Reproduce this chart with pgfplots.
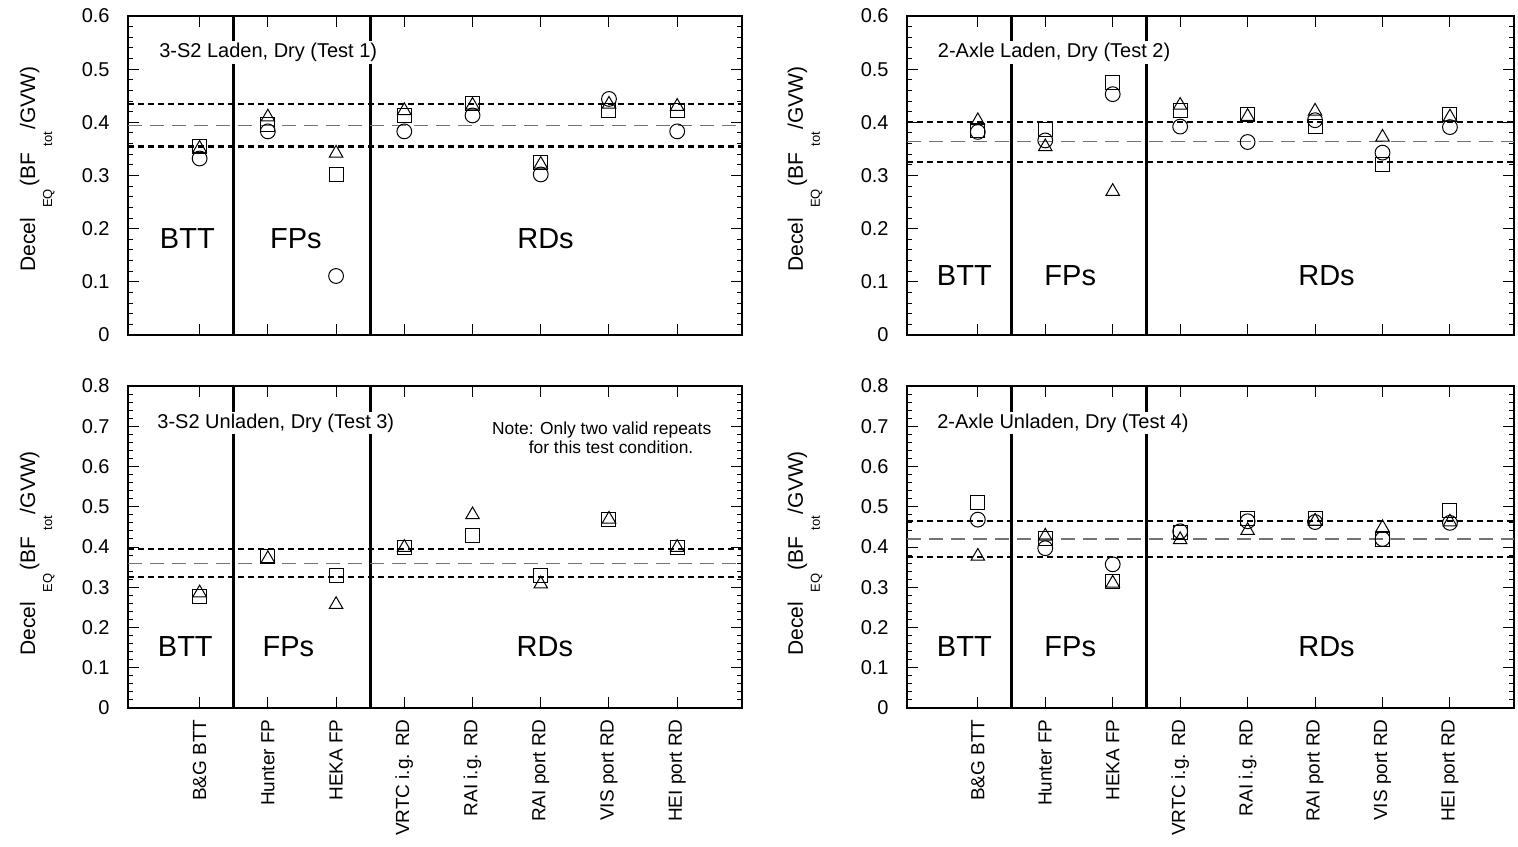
\documentclass[border=0pt]{standalone}
\usepackage{fontspec}
\setmainfont{Liberation Sans}
\usepackage{pgfplots}
\pgfplotsset{compat=1.18}
\newcommand{\sub}[1]{\raisebox{-8.5pt}{\fontsize{6.5}{7}\selectfont #1}}
\tikzset{
  ttl/.style={anchor=west, fill=white, inner sep=1pt, font=\fontsize{10}{12}\selectfont},
  grp/.style={anchor=center, font=\fontsize{14.5}{16}\selectfont},
  nte/.style={anchor=west, inner sep=0pt, font=\fontsize{8.7}{10}\selectfont},
}
\pgfplotsset{
  panel/.style={
    scale only axis, anchor=south west,
    xmin=-0.05, xmax=8.95, ymin=0,
    xtick={1,...,8},
    ytick distance=0.1, minor y tick num=4,
    axis line style={line width=0.6pt},
    every tick/.style={black, line width=0.5pt},
    major tick length=5.5pt, minor tick length=2.5pt,
    /pgf/number format/assume math mode=true,
    /pgf/number format/fixed, /pgf/number format/precision=1,
    tick label style={font=\fontsize{10}{12}\selectfont},
    yticklabel style={inner sep=0pt}, yticklabel shift=9pt,
    xticklabel style={rotate=90, anchor=east, inner sep=0pt, font=\fontsize{9.5}{11}\selectfont},
    xticklabel shift=5.5pt,
    ylabel={Decel\hspace{5pt}\sub{EQ}\hspace{1.5pt}(BF\hspace{3pt}\sub{tot}\hspace{1pt}/GVW)},
    ylabel style={font=\fontsize{10.5}{12}\selectfont, anchor=center, rotate=0},
    clip=false,
  },
  toprow/.style={panel, height=159.5pt, ymax=0.6, xticklabels={}},
  botrow/.style={panel, height=161pt, ymax=0.8,
    xticklabels={B\&G BTT, Hunter FP, HEKA FP, VRTC i.g. RD, RAI i.g. RD, RAI port RD, VIS port RD, HEI port RD}},
  hl/.style={black, line width=1pt, dash pattern=on 3pt off 2pt, forget plot},
  hm/.style={black!55, line width=0.6pt, dash pattern=on 7pt off 4pt, forget plot},
  vl/.style={black, line width=1.6pt, forget plot},
  circ/.style={only marks, mark=o, mark size=3.7pt, mark options={line width=0.5pt}, black},
  sq/.style={only marks, mark=square, mark size=3.5pt, mark options={line width=0.5pt}, black},
  tri/.style={only marks, mark=triangle, mark size=3.9pt, mark options={line width=0.5pt}, black},
}
\begin{document}
\begin{tikzpicture}
\path[use as bounding box] (0pt,0pt) rectangle (759pt,423pt);
% ---------------- Test 1 (top left)
\begin{axis}[toprow, at={(64pt,255.5pt)}, width=307pt,
  ylabel style={at={(axis description cs:-0.148,0.52)}}]
\addplot[vl] coordinates {(1.5,0) (1.5,0.6)};
\addplot[vl] coordinates {(3.5,0) (3.5,0.6)};
\addplot[hl] coordinates {(-0.05,0.434) (8.95,0.434)};
\addplot[hm] coordinates {(-0.05,0.394) (8.95,0.394)};
\addplot[hl, line width=1.5pt] coordinates {(-0.05,0.354) (8.95,0.354)};
\addplot[circ] coordinates {(1,0.332)(2,0.383)(3,0.111)(4,0.383)(5,0.413)(6,0.302)(7,0.444)(8,0.383)};
\addplot[sq] coordinates {(1,0.354)(2,0.395)(3,0.302)(4,0.413)(5,0.435)(6,0.324)(7,0.423)(8,0.423)};
\addplot[tri] coordinates {(1,0.351)(2,0.410)(3,0.342)(4,0.422)(5,0.432)(6,0.321)(7,0.434)(8,0.430)};
\node[ttl] at (rel axis cs:0.047,0.885) {3-S2 Laden, Dry (Test 1)};
\node[grp] at (axis cs:0.82,0.181) {BTT};
\node[grp] at (axis cs:2.41,0.181) {FPs};
\node[grp] at (axis cs:6.07,0.181) {RDs};
\end{axis}
% ---------------- Test 2 (top right)
\begin{axis}[toprow, at={(453.5pt,255.5pt)}, width=303.5pt,
  ylabel style={at={(axis description cs:-0.168,0.52)}}]
\addplot[vl] coordinates {(1.5,0) (1.5,0.6)};
\addplot[vl] coordinates {(3.5,0) (3.5,0.6)};
\addplot[hl] coordinates {(-0.05,0.400) (8.95,0.400)};
\addplot[hm] coordinates {(-0.05,0.364) (8.95,0.364)};
\addplot[hl] coordinates {(-0.05,0.326) (8.95,0.326)};
\addplot[circ] coordinates {(1,0.382)(2,0.366)(3,0.453)(4,0.392)(5,0.363)(6,0.404)(7,0.343)(8,0.391)};
\addplot[sq] coordinates {(1,0.384)(2,0.386)(3,0.475)(4,0.423)(5,0.415)(6,0.392)(7,0.321)(8,0.415)};
\addplot[tri] coordinates {(1,0.403)(2,0.354)(3,0.270)(4,0.432)(5,0.411)(6,0.421)(7,0.372)(8,0.410)};
\node[ttl] at (rel axis cs:0.047,0.885) {2-Axle Laden, Dry (Test 2)};
\node[grp] at (axis cs:0.80,0.112) {BTT};
\node[grp] at (axis cs:2.37,0.112) {FPs};
\node[grp] at (axis cs:6.17,0.112) {RDs};
\end{axis}
% ---------------- Test 3 (bottom left)
\begin{axis}[botrow, at={(64pt,69pt)}, width=307pt,
  ylabel style={at={(axis description cs:-0.148,0.48)}}]
\addplot[vl] coordinates {(1.5,0) (1.5,0.8)};
\addplot[vl] coordinates {(3.5,0) (3.5,0.8)};
\addplot[hl, line width=1.3pt] coordinates {(-0.05,0.395) (8.95,0.395)};
\addplot[hm] coordinates {(-0.05,0.359) (8.95,0.359)};
\addplot[hl] coordinates {(-0.05,0.325) (8.95,0.325)};
\addplot[sq] coordinates {(1,0.278)(2,0.377)(3,0.329)(4,0.399)(5,0.429)(6,0.329)(7,0.469)(8,0.399)};
\addplot[tri] coordinates {(1,0.286)(2,0.371)(3,0.257)(4,0.399)(5,0.480)(6,0.308)(7,0.469)(8,0.399)};
\node[ttl] at (rel axis cs:0.044,0.885) {3-S2 Unladen, Dry (Test 3)};
\node[nte] at (axis cs:5.28,0.690) {Note: Only two valid repeats};
\node[nte] at (axis cs:5.82,0.648) {for this test condition.};
\node[grp] at (axis cs:0.79,0.152) {BTT};
\node[grp] at (axis cs:2.30,0.152) {FPs};
\node[grp] at (axis cs:6.06,0.152) {RDs};
\end{axis}
% ---------------- Test 4 (bottom right)
\begin{axis}[botrow, at={(453.5pt,69pt)}, width=303.5pt,
  ylabel style={at={(axis description cs:-0.168,0.48)}}]
\addplot[vl] coordinates {(1.5,0) (1.5,0.8)};
\addplot[vl] coordinates {(3.5,0) (3.5,0.8)};
\addplot[hl] coordinates {(-0.05,0.464) (8.95,0.464)};
\addplot[hm] coordinates {(-0.05,0.420) (8.95,0.420)};
\addplot[hl] coordinates {(-0.05,0.375) (8.95,0.375)};
\addplot[circ] coordinates {(1,0.468)(2,0.397)(3,0.357)(4,0.439)(5,0.464)(6,0.462)(7,0.420)(8,0.460)};
\addplot[sq] coordinates {(1,0.510)(2,0.421)(3,0.315)(4,0.437)(5,0.471)(6,0.471)(7,0.418)(8,0.490)};
\addplot[tri] coordinates {(1,0.377)(2,0.427)(3,0.310)(4,0.418)(5,0.441)(6,0.464)(7,0.448)(8,0.462)};
\node[ttl] at (rel axis cs:0.046,0.885) {2-Axle Unladen, Dry (Test 4)};
\node[grp] at (axis cs:0.80,0.152) {BTT};
\node[grp] at (axis cs:2.37,0.152) {FPs};
\node[grp] at (axis cs:6.17,0.152) {RDs};
\end{axis}
\end{tikzpicture}
\end{document}
